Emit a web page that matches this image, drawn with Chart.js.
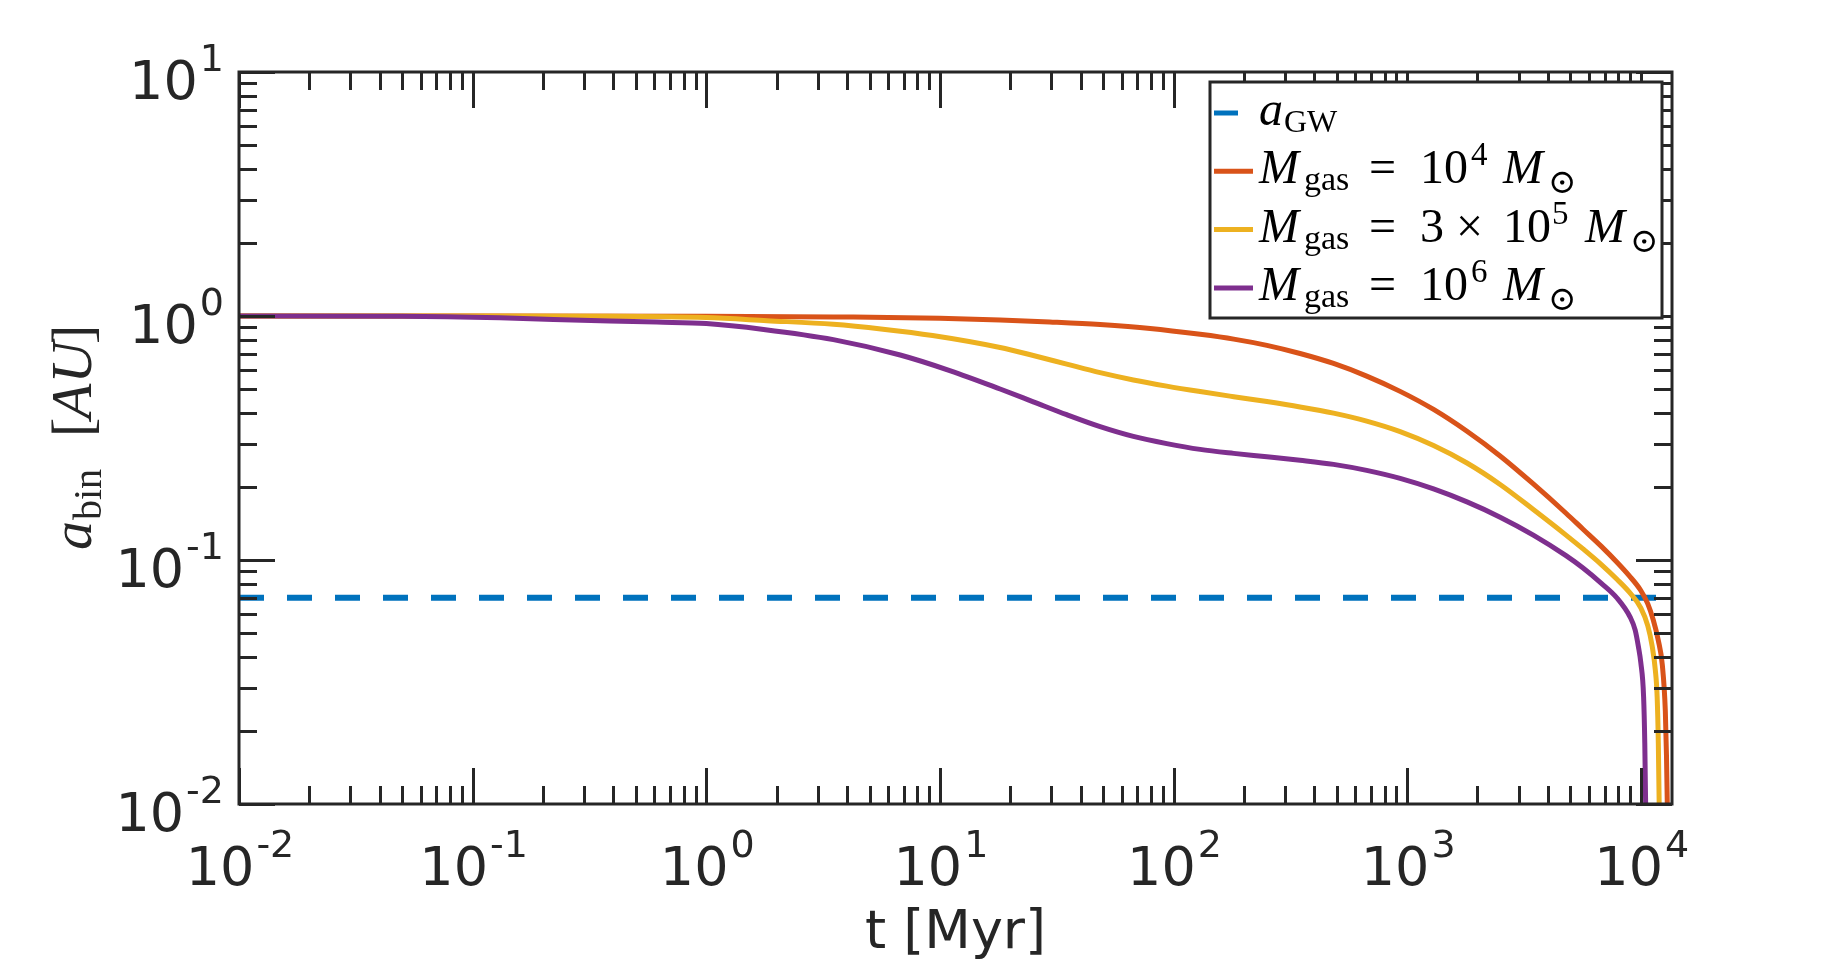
<!DOCTYPE html>
<html>
<head>
<meta charset="utf-8">
<script src="https://cdn.jsdelivr.net/npm/chart.js@4.4.1/dist/chart.umd.min.js"></script>
<style>
    html, body { margin: 0; padding: 0; background: #fff; }
    #wrap { width: 1848px; height: 961px; }
</style>
</head>
<body>
<div id="wrap"><canvas id="abinChart" width="1848" height="961"></canvas></div>
<script>
// time in Myr, separation in AU
const tGW = [0.01, 13600];
const aGW = [0.07, 0.07];

const tGas4 = [0.01, 0.1, 1, 3.5, 10, 18.1, 29.5, 48.5, 79.4, 130, 181, 251, 348, 484, 671, 933, 1297, 1803, 2500, 3467,
    4786, 5660, 6761, 7925, 8913, 10000, 10715, 11300, 11885, 12360, 12735, 12880, 13030];
const aGas4 = [1.0, 1.0, 0.998, 0.991, 0.98, 0.964, 0.945, 0.922, 0.889, 0.841, 0.804, 0.758, 0.702, 0.639, 0.567, 0.491, 0.414, 0.337, 0.267, 0.205,
    0.1555, 0.1337, 0.114, 0.0977, 0.0863, 0.075, 0.0661, 0.0569, 0.0468, 0.0372, 0.024, 0.0158, 0.008];

const tGas3e5 = [0.01, 0.1, 0.316, 1, 1.82, 3.5, 5.71, 9.3, 18.1, 25.1, 34.9, 48.5, 67.3, 93.5, 130, 181, 251, 348, 484, 671, 933, 1297, 1803, 2500, 3467,
    4786, 5660, 6761, 7925, 8913, 10000, 10715, 11194, 11535, 11749, 11885, 12020];
const aGas3e5 = [1.0, 1.0, 0.998, 0.985, 0.957, 0.925, 0.883, 0.832, 0.743, 0.689, 0.635, 0.586, 0.547, 0.516, 0.49, 0.467, 0.446, 0.424, 0.3997, 0.3707, 0.3357, 0.2944, 0.2497, 0.2039, 0.161,
    0.1265, 0.111, 0.096, 0.0832, 0.074, 0.0637, 0.0537, 0.0442, 0.0355, 0.0275, 0.0178, 0.008];

const tGas6 = [0.01, 0.05, 0.131, 0.222, 0.614, 1, 1.76, 3.5, 6.76, 11.1, 18.1, 25.1, 34.9, 48.5, 67.3, 93.5, 130, 181, 251, 348, 484, 671, 933, 1297, 1803, 2500, 3467,
    4786, 5660, 6761, 7925, 9016, 9462, 9772, 10000, 10280, 10400, 10520];
const aGas6 = [1.0, 0.998, 0.984, 0.968, 0.944, 0.931, 0.881, 0.80, 0.692, 0.596, 0.502, 0.445, 0.394, 0.352, 0.321, 0.30, 0.284, 0.2735, 0.265, 0.2564, 0.2466, 0.233, 0.216, 0.1955, 0.173, 0.1498, 0.1265,
    0.1042, 0.0927, 0.0804, 0.0697, 0.0582, 0.0516, 0.044, 0.038, 0.0275, 0.0178, 0.008];

const xTickExp = [-2, -1, 0, 1, 2, 3, 4];
const yTickExp = [-2, -1, 0, 1];

const ink = '#262626';
const sans = '"DejaVu Sans", sans-serif';
const serif = '"Liberation Serif", "DejaVu Serif", serif';
const sunFont = '34px "DejaVu Serif", serif';

function pts(ts, as) {
    return ts.map((t, i) => ({ x: t, y: as[i] }));
}

// draws a list of text pieces; each piece: [text, font, dx, dy]
function drawPieces(ctx, pieces, x0, y0) {
    pieces.forEach(([text, font, dx, dy]) => {
        ctx.font = font;
        ctx.fillText(text, x0 + dx, y0 + dy);
    });
}

function powPieces(exp) {
    return [['10', '54px ' + sans], [String(exp), '38px ' + sans]];
}

const legendRows = [
    { color: '#0072BD', sample: 24, pieces: [
        ['a', 'italic 48px ' + serif, 0, 0],
        ['GW', '32px ' + serif, 25, 7]] },
    { color: '#D95319', sample: 39, pieces: [
        ['M', 'italic 48px ' + serif, 0, 0],
        ['gas', '34px ' + serif, 45, 7],
        ['=', '48px ' + serif, 110, 0],
        ['10', '48px ' + serif, 161, 0],
        ['4', '33px ' + serif, 212, -18],
        ['M', 'italic 48px ' + serif, 244, 0],
        ['⊙', sunFont, 289, 10]] },
    { color: '#EDB120', sample: 39, pieces: [
        ['M', 'italic 48px ' + serif, 0, 0],
        ['gas', '34px ' + serif, 45, 7],
        ['=', '48px ' + serif, 110, 0],
        ['3', '48px ' + serif, 161, 0],
        ['×', '48px ' + serif, 197, 0],
        ['10', '48px ' + serif, 244, 0],
        ['5', '33px ' + serif, 293, -18],
        ['M', 'italic 48px ' + serif, 326, 0],
        ['⊙', sunFont, 371, 10]] },
    { color: '#7E2F8E', sample: 39, pieces: [
        ['M', 'italic 48px ' + serif, 0, 0],
        ['gas', '34px ' + serif, 45, 7],
        ['=', '48px ' + serif, 110, 0],
        ['10', '48px ' + serif, 161, 0],
        ['6', '33px ' + serif, 212, -18],
        ['M', 'italic 48px ' + serif, 244, 0],
        ['⊙', sunFont, 289, 10]] }
];

const matlabAxes = {
    id: 'matlabAxes',
    afterDatasetsDraw(chart) {
        const { ctx, chartArea: a, scales: { x, y } } = chart;
        ctx.save();
        ctx.strokeStyle = ink;
        ctx.fillStyle = ink;
        ctx.lineWidth = 3;
        ctx.lineCap = 'butt';

        // inward ticks on all four sides
        ctx.beginPath();
        for (let e = -2; e <= 4; e++) {
            for (let k = 1; k <= 9; k++) {
                const v = k * Math.pow(10, e);
                if (v > x.max * 1.0001) continue;
                const px = Math.round(x.getPixelForValue(v)) + 0.5;
                const len = k === 1 ? 36 : 18;
                ctx.moveTo(px, a.bottom); ctx.lineTo(px, a.bottom - len);
                ctx.moveTo(px, a.top); ctx.lineTo(px, a.top + len);
            }
        }
        for (let e = -2; e <= 1; e++) {
            for (let k = 1; k <= 9; k++) {
                const v = k * Math.pow(10, e);
                if (v > y.max * 1.0001) continue;
                const py = Math.round(y.getPixelForValue(v)) + 0.5;
                const len = k === 1 ? 36 : 18;
                ctx.moveTo(a.left, py); ctx.lineTo(a.left + len, py);
                ctx.moveTo(a.right, py); ctx.lineTo(a.right - len, py);
            }
        }
        ctx.stroke();
        ctx.strokeRect(a.left, a.top, a.right - a.left, a.bottom - a.top);

        // tick labels 10^n
        ctx.textBaseline = 'alphabetic';
        ctx.textAlign = 'left';
        xTickExp.forEach(e => {
            const [b, s] = powPieces(e);
            ctx.font = b[1]; const wb = ctx.measureText(b[0]).width;
            ctx.font = s[1]; const ws = ctx.measureText(s[0]).width;
            const x0 = x.getPixelForValue(Math.pow(10, e)) - (wb + ws) / 2;
            drawPieces(ctx, [[b[0], b[1], 0, 0], [s[0], s[1], wb + 2, -28]], x0, 885);
        });
        yTickExp.forEach(e => {
            const [b, s] = powPieces(e);
            ctx.font = b[1]; const wb = ctx.measureText(b[0]).width;
            ctx.font = s[1]; const ws = ctx.measureText(s[0]).width;
            const py = y.getPixelForValue(Math.pow(10, e));
            const x0 = a.left - 15 - (wb + ws + 2);
            drawPieces(ctx, [[b[0], b[1], 0, 0], [s[0], s[1], wb + 2, -28]], x0, py + 27);
        });

        // axis titles
        ctx.font = '54px ' + sans;
        ctx.textAlign = 'center';
        ctx.fillText('t [Myr]', (a.left + a.right) / 2, 948);

        ctx.textAlign = 'left';
        ctx.save();
        ctx.translate(91, (a.top + a.bottom) / 2);
        ctx.rotate(-Math.PI / 2);
        drawPieces(ctx, [
            ['a', 'italic 58px ' + serif, 0, 0],
            ['bin', '40px ' + serif, 30, 10],
            ['[', '58px ' + serif, 113, 0],
            ['AU', 'italic 58px ' + serif, 131, 0],
            [']', '58px ' + serif, 206, 0]
        ], -112, 0);
        ctx.restore();

        // legend box
        const box = { left: 1210, top: 82, width: 452, height: 236 };
        ctx.fillStyle = '#fff';
        ctx.fillRect(box.left, box.top, box.width, box.height);
        ctx.lineWidth = 3;
        ctx.strokeRect(box.left, box.top, box.width, box.height);
        legendRows.forEach((row, i) => {
            const cy = box.top + 31 + i * 58.3;
            ctx.strokeStyle = row.color;
            ctx.lineWidth = 5;
            ctx.beginPath();
            ctx.moveTo(box.left + 4, cy);
            ctx.lineTo(box.left + 4 + row.sample, cy);
            ctx.stroke();
            ctx.fillStyle = '#000';
            drawPieces(ctx, row.pieces, box.left + 49, cy + 12);
        });
        ctx.restore();
    }
};

const ctx = document.getElementById('abinChart').getContext('2d');

new Chart(ctx, {
    type: 'line',
    data: {
        datasets: [{
            label: 'a_GW',
            data: pts(tGW, aGW),
            borderColor: '#0072BD',
            borderWidth: 6,
            borderDash: [25, 23],
            order: 4
        }, {
            label: 'M_gas = 10^4 M_sun',
            data: pts(tGas4, aGas4),
            borderColor: '#D95319',
            order: 3
        }, {
            label: 'M_gas = 3 x 10^5 M_sun',
            data: pts(tGas3e5, aGas3e5),
            borderColor: '#EDB120',
            order: 2
        }, {
            label: 'M_gas = 10^6 M_sun',
            data: pts(tGas6, aGas6),
            borderColor: '#7E2F8E',
            order: 1
        }]
    },
    options: {
        responsive: false,
        animation: false,
        layout: { padding: { left: 239, top: 72, right: 176, bottom: 157 } },
        elements: {
            point: { radius: 0, hoverRadius: 0 },
            line: { borderWidth: 5, fill: false, cubicInterpolationMode: 'monotone', borderCapStyle: 'butt' }
        },
        plugins: {
            legend: { display: false },
            title: { display: false },
            tooltip: { enabled: false }
        },
        scales: {
            x: { type: 'logarithmic', min: 0.01, max: 13600, display: false },
            y: { type: 'logarithmic', min: 0.01, max: 10, display: false }
        }
    },
    plugins: [matlabAxes]
});
</script>
</body>
</html>
